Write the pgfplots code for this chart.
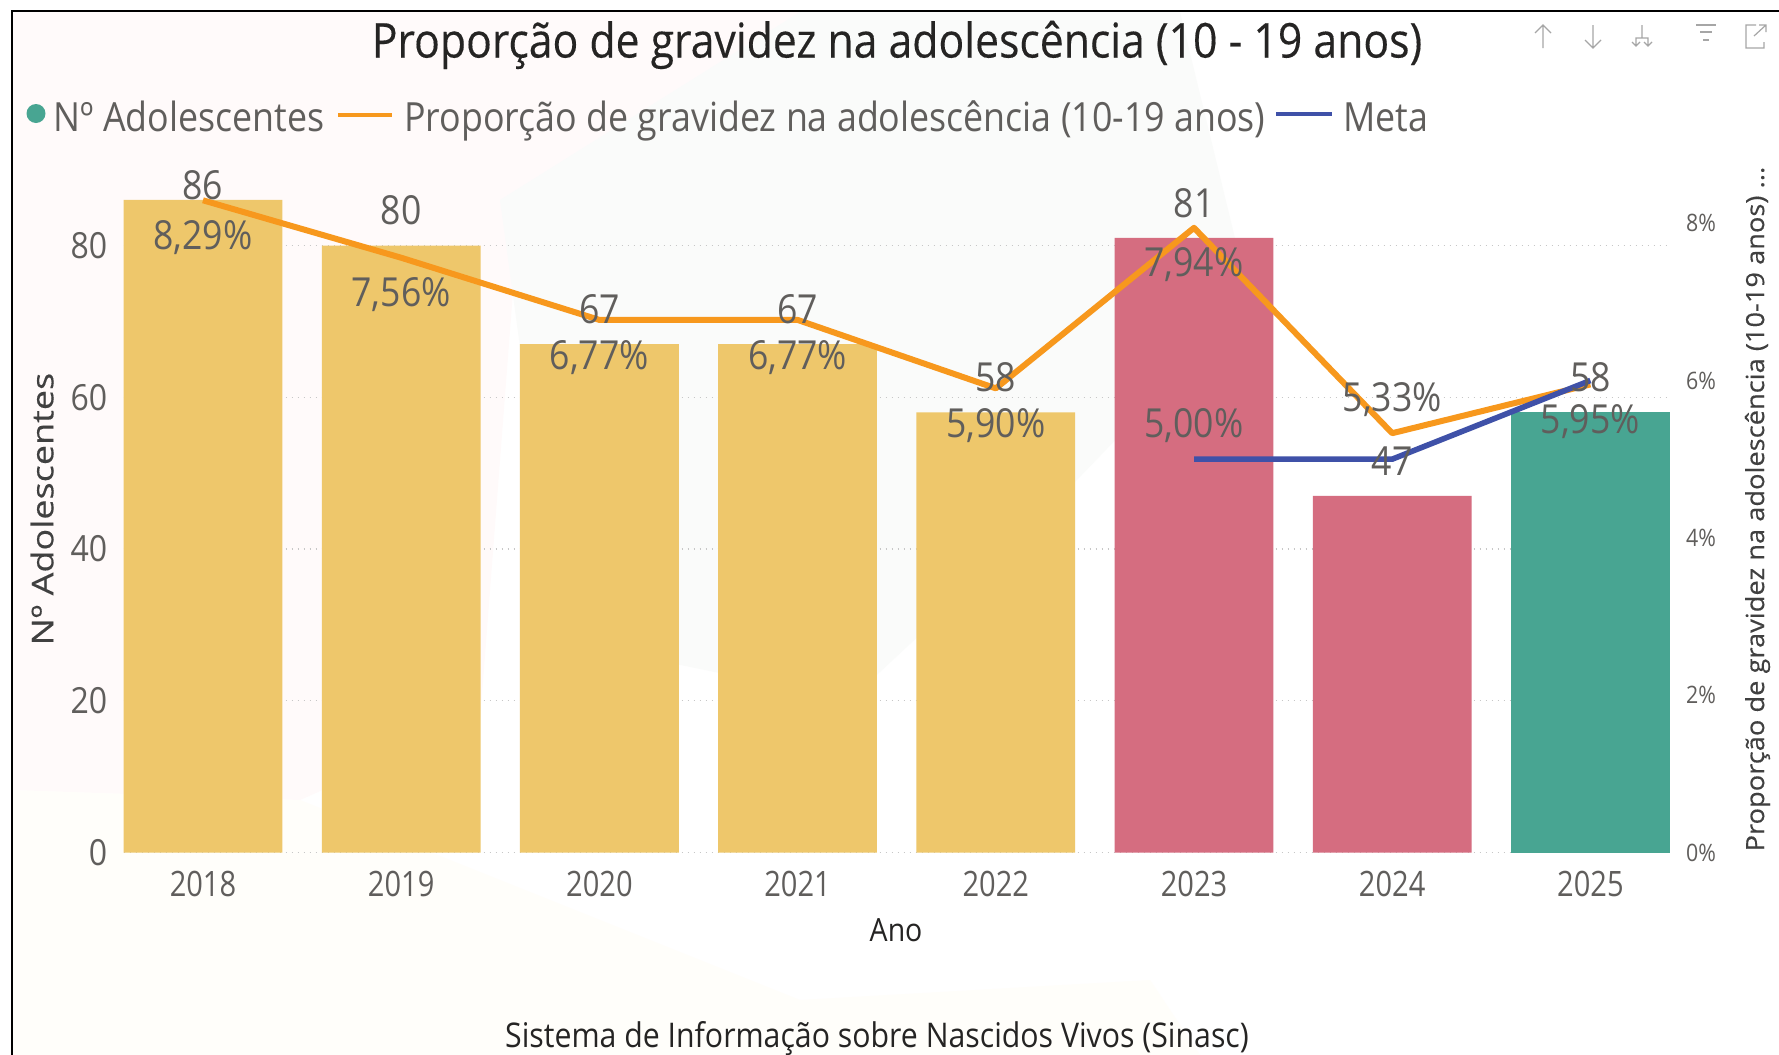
\documentclass[border=0pt]{standalone}
\usepackage{pgfplots}
\pgfplotsset{compat=1.18}
\usepackage{fontspec}
\setmainfont{Open Sans}[FakeStretch=0.89]
\newfontfamily\narrowf{Open Sans}[FakeStretch=0.83]
\newfontfamily\titlef{Open Sans}[FakeStretch=0.89,FakeBold=0.25]
\newfontfamily\wide{Open Sans}[FakeStretch=1.2,FakeBold=0.25]
\newfontfamily\wider{Open Sans}[FakeStretch=1.09,FakeBold=0.25]
\newcommand{\fs}[1]{\fontsize{#1pt}{#1pt}\selectfont}
\definecolor{cyel}{HTML}{EEC76B}
\definecolor{cred}{HTML}{D56D80}
\definecolor{cgrn}{HTML}{48A592}
\definecolor{corg}{HTML}{F7981D}
\definecolor{cblu}{HTML}{3F51A8}
\definecolor{cgray}{HTML}{605E5C}
\definecolor{cdark}{HTML}{252423}
\definecolor{cicon}{HTML}{A6A6A6}
\definecolor{wpink}{HTML}{FFFAFA}
\definecolor{wgreen}{HTML}{FAFBFA}
\definecolor{wyel}{HTML}{FFFEFA}
\begin{document}
\begin{tikzpicture}[x=0.5pt,y=-0.5pt]
\path[use as bounding box] (0,0) rectangle (1779,1055);
% faint watermark
\fill[white] (0,0) rectangle (1779,1055);
\fill[wpink] (13,12) -- (800,12) -- (520,200) -- (480,720) -- (300,800) -- (13,790) -- cycle;
\fill[wgreen] (800,12) -- (1180,12) -- (1250,300) -- (1000,560) -- (850,700) -- (560,640) -- (500,200) -- cycle;
\fill[wyel] (13,790) -- (300,800) -- (800,1000) -- (1150,980) -- (1200,1055) -- (13,1055) -- cycle;
\draw[black,line width=1pt] (12,1055) -- (12,11) -- (1779,11);

\begin{axis}[
  at={(61.85pt,-426.3pt)}, anchor=south west, scale only axis,
  width=773pt, height=341.5pt,
  xmin=-0.4, xmax=7.4, ymin=0, ymax=90,
  axis line style={draw=none}, major tick style={draw=none},
  xtick={0,...,7},
  xticklabels={2018,2019,2020,2021,2022,2023,2024,2025},
  ytick={0,20,40,60,80},
  ymajorgrids, grid style={dash pattern=on 0.8pt off 2.2pt,black!22,line width=0.6pt},
  /pgf/number format/assume math mode=true,
  xticklabel style={font=\narrowf\fs{17.5},text=cgray,anchor=center,yshift=-15.6pt},
  yticklabel style={font=\fs{18},text=cgray,anchor=east,inner xsep=0pt,xshift=-8pt},
  title={Proporção de gravidez na adolescência (10 - 19 anos)},
  title style={at={(axis description cs:0.5002,1.165)},anchor=center,font=\titlef\fs{24},text=cdark},
  xlabel={Ano},
  xlabel style={at={(axis description cs:0.4996,-0.1133)},anchor=center,font=\fs{16},text=cdark},
  ylabel={Nº Adolescentes},
  ylabel style={at={(axis description cs:-0.0528,0.503)},anchor=center,font=\wide\fs{15},text=black!75},
  clip=false,
]
\addplot[ybar,bar width=79.4pt,bar shift=0pt,fill=cyel,draw=none] coordinates {(0,86)(1,80)(2,67)(3,67)(4,58)};
\addplot[ybar,bar width=79.4pt,bar shift=0pt,fill=cred,draw=none] coordinates {(5,81)(6,47)};
\addplot[ybar,bar width=79.4pt,bar shift=0pt,fill=cgrn,draw=none] coordinates {(7,58)};
\end{axis}

\begin{axis}[
  at={(61.85pt,-426.3pt)}, anchor=south west, scale only axis,
  width=773pt, height=341.5pt,
  xmin=-0.4, xmax=7.4, ymin=0, ymax=8.68,
  axis x line=none, axis y line*=right,
  axis line style={draw=none}, major tick style={draw=none},
  ytick={0,2,4,6,8},
  /pgf/number format/assume math mode=true,
  yticklabel={\pgfmathprintnumber{\tick}\%},
  yticklabel style={font=\fs{12},text=cgray,anchor=west,inner xsep=0pt,xshift=8pt},
  ylabel={Proporção de gravidez na adolescência (10-19 anos) ...},
  ylabel style={at={(axis description cs:1.0568,0.503)},anchor=center,font=\wider\fs{12.5},text=black!75},
  clip=false,
]
\addplot[corg,line width=3pt,line join=round] coordinates {(0,8.29)(1,7.56)(2,6.77)(3,6.77)(4,5.90)(5,7.94)(6,5.33)(7,5.95)};
\addplot[cblu,line width=2.8pt,line join=round] coordinates {(5,5)(6,5)(7,6)};
% labels of the bars, read on the bar scale (1 % = 10.37 units)
\addplot[draw=none,mark=none,point meta=explicit symbolic,nodes near coords,
  nodes near coords style={font=\fs{20},text=cgray,anchor=center,yshift=7.4pt}]
  table[meta=l,y expr=\thisrow{n}/10.37] {
x n l
0 86 86
};
\addplot[draw=none,mark=none,point meta=explicit symbolic,nodes near coords,
  nodes near coords style={font=\fs{20},text=cgray,anchor=center,yshift=17.5pt}]
  table[meta=l,y expr=\thisrow{n}/10.37] {
x n l
1 80 80
2 67 67
3 67 67
4 58 58
5 81 81
6 47 47
7 58 58
};
% labels of the lines
\addplot[draw=none,mark=none,point meta=explicit symbolic,nodes near coords,
  nodes near coords style={font=\fs{20},text=cgray,anchor=center,yshift=-18.6pt}]
  table[meta=l] {
x y l
0 8.29 {8,29\%}
1 7.56 {7,56\%}
2 6.77 {6,77\%}
3 6.77 {6,77\%}
4 5.90 {5,90\%}
5 7.94 {7,94\%}
7 5.95 {5,95\%}
};
\addplot[draw=none,mark=none,point meta=explicit symbolic,nodes near coords,
  nodes near coords style={font=\fs{20},text=cgray,anchor=center,yshift=16.8pt}]
  table[meta=l] {
x y l
6 5.33 {5,33\%}
5 5.00 {5,00\%}
};
\end{axis}

% legend
\fill[cgrn] (36,113.5) circle (9.5);
\node[anchor=base west,inner sep=0,font=\fs{20.1},text=cgray] at (53,131) {Nº Adolescentes};
\draw[corg,line width=2pt] (338,114.5) -- (392,114.5);
\node[anchor=base west,inner sep=0,font=\fs{20.1},text=cgray] at (404,131) {Proporção de gravidez na adolescência (10-19 anos)};
\draw[cblu,line width=2pt] (1276,114) -- (1332,114);
\node[anchor=base west,inner sep=0,font=\fs{20.1},text=cgray] at (1343,131) {Meta};
% source
\node[anchor=base,inner sep=0,font=\fs{17},text=cdark] at (877,1047) {Sistema de Informação sobre Nascidos Vivos (Sinasc)};
% header icons
\begin{scope}[draw=cicon,line width=0.6pt]
\draw (1543,48) -- (1543,25) (1535,33) -- (1543,25) -- (1551,33);
\draw (1593,25) -- (1593,48) (1585,40) -- (1593,48) -- (1601,40);
\draw (1636,46) -- (1636,38) -- (1648,38) -- (1648,46) (1642,38) -- (1642,25)
      (1632,42) -- (1636,46) -- (1640,42) (1644,42) -- (1648,46) -- (1652,42);
\draw (1696,25) -- (1716,25) (1700,32) -- (1712,32) (1703,40) -- (1709,40);
\draw (1746,33) -- (1746,48) -- (1764,48) -- (1764,42) (1746,33) -- (1746,25) -- (1756,25)
      (1754,36) -- (1766,25) (1759,25) -- (1766,25) -- (1766,32);
\end{scope}
\end{tikzpicture}
\end{document}
